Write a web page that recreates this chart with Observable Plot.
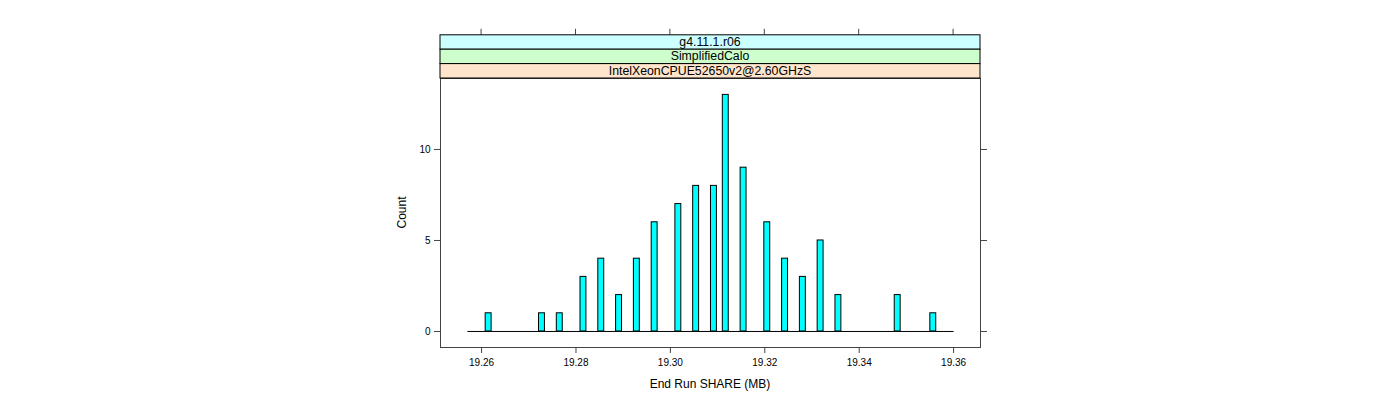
<!DOCTYPE html>
<html>
<head>
<meta charset="utf-8">
<script src="https://cdn.jsdelivr.net/npm/d3@7"></script>
<script src="https://cdn.jsdelivr.net/npm/@observablehq/plot@0.6"></script>
<style>
  body { margin: 0; background: #fff; }
  #chart { width: 1400px; height: 400px; }
</style>
</head>
<body>
<div id="chart"></div>
<script>
// Strip labels (outer to inner)
const strips = ["g4.11.1.r06", "SimplifiedCalo", "IntelXeonCPUE52650v2@2.60GHzS"];
const stripColors = ["#ccffff", "#ccffcc", "#ffe5cc"];

// Histogram bins: left edge (MB) and counts
const binWidth = 0.001256;
const histStart = 19.2571;
const histEnd = 19.3601;
const binLeft = [19.26087, 19.27217, 19.27594, 19.28096, 19.28473, 19.28850, 19.29227, 19.29604,
                 19.30106, 19.30483, 19.30860, 19.31111, 19.31488, 19.31990, 19.32367, 19.32744,
                 19.33120, 19.33497, 19.34753, 19.35507];
const counts = [1, 1, 1, 3, 4, 2, 4, 6, 7, 8, 8, 13, 9, 6, 4, 3, 5, 2, 2, 1];

const xTicks = [19.26, 19.28, 19.30, 19.32, 19.34, 19.36];
const yTicks = [0, 5, 10];

const bins = binLeft.map((x, i) => ({x1: x, x2: x + binWidth, count: counts[i]}));

const W = 1400, H = 400;
const mL = 440, mR = 420, mT = 78, mB = 53;
const axisColor = "#444";

const plot = Plot.plot({
  width: W,
  height: H,
  marginLeft: mL,
  marginRight: mR,
  marginTop: mT,
  marginBottom: mB,
  style: {fontFamily: "'Liberation Sans', Arial, sans-serif", fontSize: "10px", background: "#fff", color: "#000"},
  x: {domain: [19.2513, 19.3657]},
  y: {domain: [-0.88, 13.9]},
  marks: [
    Plot.frame({stroke: axisColor}),
    Plot.ruleY([0], {x1: histStart, x2: histEnd, stroke: "#000", strokeWidth: 1}),
    Plot.rectY(bins, {x1: "x1", x2: "x2", y1: 0, y2: "count", fill: "#00ffff", stroke: "#000", strokeWidth: 1}),
    Plot.axisX({anchor: "bottom", ticks: xTicks, tickFormat: d3.format(".2f"), tickSize: 6, tickPadding: 5, stroke: axisColor, label: null}),
    Plot.axisY({anchor: "left", ticks: yTicks, tickFormat: d3.format("d"), tickSize: 6, tickPadding: 4, stroke: axisColor, label: null}),
    Plot.axisY({anchor: "right", ticks: yTicks, tickSize: 6, tickFormat: () => "", stroke: axisColor, label: null})
  ]
});

document.getElementById("chart").appendChild(plot);

const svg = d3.select(plot);
const xs = plot.scale("x");
const panelL = mL, panelR = W - mR;
const stripH = 14.4;
const stripTop = mT - stripH * strips.length;

// Top ticks above strips
const topTicks = svg.append("g").attr("stroke", axisColor);
xTicks.forEach(t => {
  const px = xs.apply(t);
  topTicks.append("line").attr("x1", px).attr("x2", px).attr("y1", stripTop - 6).attr("y2", stripTop);
});

// Strips
const g = svg.append("g");
strips.forEach((s, i) => {
  const y0 = stripTop + i * stripH;
  g.append("rect").attr("x", panelL).attr("y", y0).attr("width", panelR - panelL).attr("height", stripH)
    .attr("fill", stripColors[i]).attr("stroke", "#000").attr("stroke-width", 1);
  g.append("text").attr("x", (panelL + panelR) / 2).attr("y", y0 + stripH / 2 + 0.5)
    .attr("text-anchor", "middle").attr("dominant-baseline", "middle")
    .attr("font-size", "12.3px").attr("fill", "#000").text(s);
});

// Axis titles
svg.append("text").attr("x", (panelL + panelR) / 2).attr("y", 388)
  .attr("text-anchor", "middle").attr("font-size", "12px").attr("fill", "#000").text("End Run SHARE (MB)");
svg.append("text").attr("transform", `translate(406, ${(mT + (H - mB)) / 2}) rotate(-90)`)
  .attr("text-anchor", "middle").attr("font-size", "12px").attr("fill", "#000").text("Count");
</script>
</body>
</html>
